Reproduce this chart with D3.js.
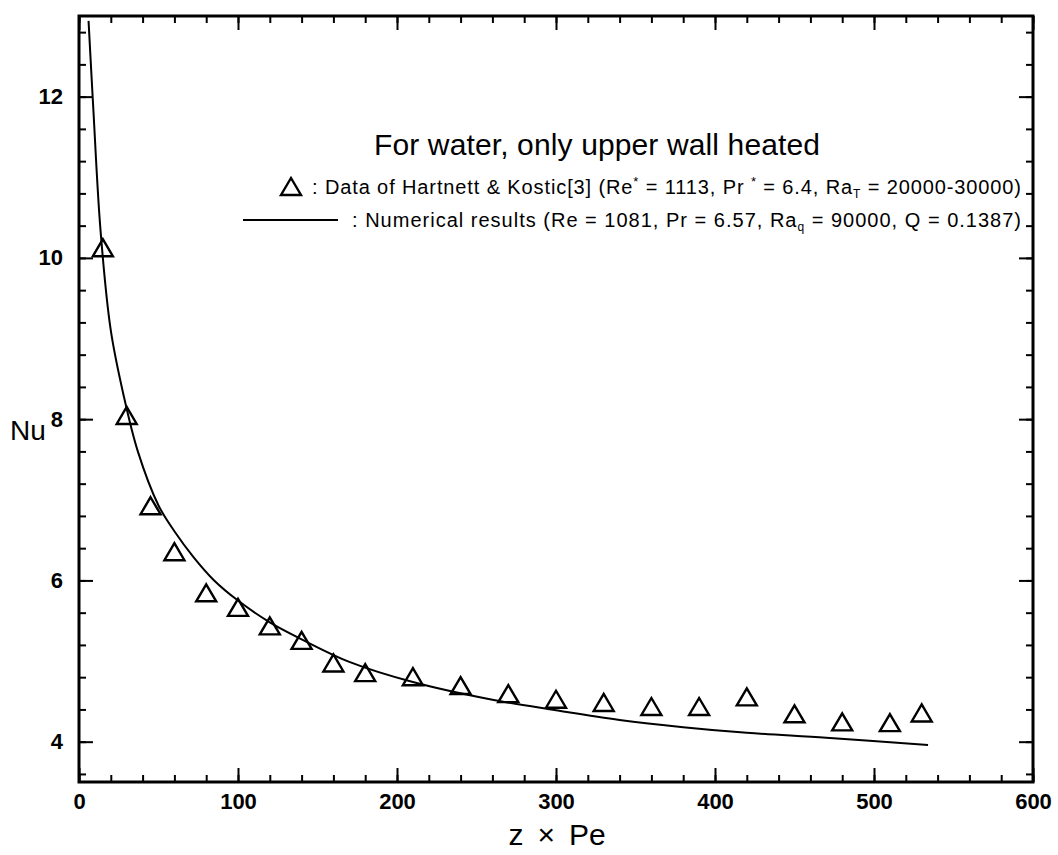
<!DOCTYPE html>
<html>
<head>
<meta charset="utf-8">
<script src="https://cdn.jsdelivr.net/npm/d3@7"></script>
<style>
  body { margin: 0; background: #fff; }
  text { font-family: "Liberation Sans", Arial, sans-serif; fill: #000; }
</style>
</head>
<body>
<svg id="chart"></svg>
<script>
// numerical result curve (z*Pe, Nu)
var curveX = [6, 9, 13.5, 20, 28, 37, 50, 60, 72, 85, 100, 120, 140, 170, 210, 260, 300, 340, 380, 420, 470, 534];
var curveY = [12.94, 11.85, 10.35, 9.1, 8.3, 7.6, 6.93, 6.61, 6.29, 6.0, 5.75, 5.48, 5.27, 4.99, 4.74, 4.52, 4.39, 4.27, 4.18, 4.11, 4.05, 3.96];

// Hartnett & Kostic data
var dataX = [15, 30, 45, 60, 80, 100, 120, 140, 160, 180, 210, 240, 270, 300, 330, 360, 390, 420, 450, 480, 510, 530];
var dataY = [10.12, 8.04, 6.92, 6.35, 5.84, 5.66, 5.43, 5.25, 4.97, 4.85, 4.80, 4.69, 4.59, 4.52, 4.48, 4.43, 4.43, 4.55, 4.34, 4.24, 4.23, 4.35];

var xMajor = [0, 100, 200, 300, 400, 500, 600];
var xMinor = d3.range(0, 601, 20);
var yMajor = [4, 6, 8, 10, 12];
var yMinor = d3.range(3.6, 13.01, 0.4);

function draw() {
    var width = 1058, height = 855;
    var pLeft = 79, pRight = 1033, pTop = 16, pBottom = 782;

    var svg = d3.select("#chart").attr("width", width).attr("height", height);

    var x = d3.scaleLinear().domain([0, 600]).range([pLeft, pRight]);
    var y = d3.scaleLinear().domain([3.5, 13]).range([pBottom, pTop]);

    function styleAxis(g) {
        g.select(".domain").remove();
        g.selectAll(".tick line").attr("stroke", "#000").attr("stroke-width", 2);
        g.selectAll(".tick text").attr("font-size", 22).attr("font-weight", "bold")
         .attr("font-family", "'Liberation Sans', Arial, sans-serif");
    }

    // bottom
    svg.append("g").attr("transform", "translate(0," + pBottom + ")")
       .call(d3.axisBottom(x).tickValues(xMinor).tickSize(-7).tickFormat("")).call(styleAxis);
    svg.append("g").attr("transform", "translate(0," + pBottom + ")")
       .call(d3.axisBottom(x).tickValues(xMajor).tickSize(-14).tickPadding(11).tickFormat(d3.format("d"))).call(styleAxis);
    // top
    svg.append("g").attr("transform", "translate(0," + pTop + ")")
       .call(d3.axisTop(x).tickValues(xMinor).tickSize(-7).tickFormat("")).call(styleAxis);
    svg.append("g").attr("transform", "translate(0," + pTop + ")")
       .call(d3.axisTop(x).tickValues(xMajor).tickSize(-14).tickFormat("")).call(styleAxis);
    // left
    svg.append("g").attr("transform", "translate(" + pLeft + ",0)")
       .call(d3.axisLeft(y).tickValues(yMinor).tickSize(-7).tickFormat("")).call(styleAxis);
    svg.append("g").attr("transform", "translate(" + pLeft + ",0)")
       .call(d3.axisLeft(y).tickValues(yMajor).tickSize(-14).tickPadding(16).tickFormat(d3.format("d"))).call(styleAxis);
    // right
    svg.append("g").attr("transform", "translate(" + pRight + ",0)")
       .call(d3.axisRight(y).tickValues(yMinor).tickSize(-7).tickFormat("")).call(styleAxis);
    svg.append("g").attr("transform", "translate(" + pRight + ",0)")
       .call(d3.axisRight(y).tickValues(yMajor).tickSize(-14).tickFormat("")).call(styleAxis);

    // frame
    svg.append("rect")
       .attr("x", pLeft).attr("y", pTop)
       .attr("width", pRight - pLeft).attr("height", pBottom - pTop)
       .attr("fill", "none").attr("stroke", "#000").attr("stroke-width", 3);

    // curve
    var line = d3.line()
        .x(function (d, i) { return x(curveX[i]); })
        .y(function (d, i) { return y(curveY[i]); })
        .curve(d3.curveCatmullRom);

    svg.append("path")
       .datum(curveX)
       .attr("d", line)
       .attr("fill", "none")
       .attr("stroke", "#000")
       .attr("stroke-width", 2);

    // triangle marker
    var tri = "M0,-9L10,8L-10,8Z";

    svg.selectAll(".pt")
       .data(dataX)
       .enter()
       .append("path")
       .attr("class", "pt")
       .attr("transform", function (d, i) { return "translate(" + x(d) + "," + y(dataY[i]) + ")"; })
       .attr("d", tri)
       .attr("fill", "none")
       .attr("stroke", "#000")
       .attr("stroke-width", 2.4);

    // axis titles
    svg.append("text").attr("x", 28).attr("y", 440).attr("text-anchor", "middle")
       .attr("font-size", 28).text("Nu");
    var xt = svg.append("text").attr("x", 557).attr("y", 845).attr("text-anchor", "middle")
       .attr("font-size", 30);
    xt.append("tspan").text("z");
    xt.append("tspan").attr("dx", 14).text("\u00d7");
    xt.append("tspan").attr("dx", 14).text("Pe");

    // title and legend
    svg.append("text").attr("x", 597).attr("y", 155).attr("text-anchor", "middle")
       .attr("font-size", 30).attr("textLength", 446).attr("lengthAdjust", "spacing")
       .text("For water, only upper wall heated");

    svg.append("path").attr("d", tri)
       .attr("transform", "translate(291,187)")
       .attr("fill", "none").attr("stroke", "#000").attr("stroke-width", 2.4);

    var t1 = svg.append("text").attr("x", 312).attr("y", 194).attr("font-size", 20)
       .attr("textLength", 709).attr("lengthAdjust", "spacing");
    t1.append("tspan").text(": Data of Hartnett & Kostic[3] (Re");
    t1.append("tspan").attr("dy", -8).attr("font-size", 13).text("*");
    t1.append("tspan").attr("dy", 8).text(" = 1113, Pr ");
    t1.append("tspan").attr("dy", -8).attr("font-size", 13).text("*");
    t1.append("tspan").attr("dy", 8).text(" = 6.4, Ra");
    t1.append("tspan").attr("dy", 4).attr("font-size", 12).text("T");
    t1.append("tspan").attr("dy", -4).text(" = 20000-30000)");

    svg.append("line").attr("x1", 243).attr("x2", 338).attr("y1", 220).attr("y2", 220)
       .attr("stroke", "#000").attr("stroke-width", 2);

    var t2 = svg.append("text").attr("x", 352).attr("y", 227).attr("font-size", 20)
       .attr("textLength", 669).attr("lengthAdjust", "spacing");
    t2.append("tspan").text(": Numerical results (Re = 1081, Pr = 6.57, Ra");
    t2.append("tspan").attr("dy", 4).attr("font-size", 12).text("q");
    t2.append("tspan").attr("dy", -4).text(" = 90000, Q = 0.1387)");
}

draw();
</script>
</body>
</html>
